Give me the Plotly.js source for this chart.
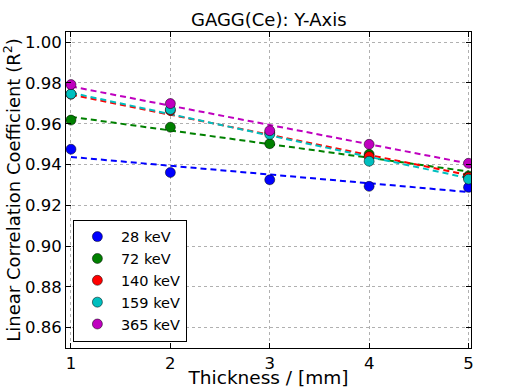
<!DOCTYPE html>
<html>
<head>
<meta charset="utf-8">
<script src="https://cdn.plot.ly/plotly-3.0.1.min.js"></script>
<style>
  html, body { margin: 0; padding: 0; background: #fff; }
  #plot { width: 509px; height: 388px; }
</style>
</head>
<body>
<div id="plot"></div>
<script>
// thickness in mm
var thickness = [1, 2, 3, 4, 5];

// R^2 values per energy
var r28  = [0.9475, 0.9361, 0.9325, 0.9293, 0.9288];
var r72  = [0.9618, 0.9583, 0.9502, 0.9450, 0.9344];
var r140 = [0.9745, 0.9665, 0.9556, 0.9439, 0.9337];
var r159 = [0.9746, 0.9670, 0.9548, 0.9416, 0.9328];
var r365 = [0.9792, 0.9699, 0.9566, 0.9499, 0.9406];

// dashed linear fit lines (end points)
var fitX    = [1, 5];
var fit28   = [0.9437, 0.9265];
var fit72   = [0.9634, 0.9366];
var fit140  = [0.9743, 0.9348];
var fit159  = [0.9752, 0.9333];
var fit365  = [0.9783, 0.9405];

var labels = ['28 keV', '72 keV', '140 keV', '159 keV', '365 keV'];
var colors = ['#0000ff', '#008000', '#ff0000', '#00bfbf', '#bf00bf'];
var series = [r28, r72, r140, r159, r365];
var fits = [fit28, fit72, fit140, fit159, fit365];

var data = [];
for (var i = 0; i < series.length; i++) {
  data.push({
    x: fitX, y: fits[i],
    mode: 'lines', type: 'scatter', showlegend: false, hoverinfo: 'skip',
    line: {color: colors[i], width: 2, dash: '6px,4px'}
  });
}
for (var i = 0; i < series.length; i++) {
  data.push({
    x: thickness, y: series[i],
    mode: 'markers', type: 'scatter', name: labels[i],
    marker: {color: colors[i], size: 10, line: {color: '#000', width: 0.5}}
  });
}

var fam = 'DejaVu Sans, sans-serif';

var layout = {
  width: 509, height: 388,
  margin: {l: 66, r: 38, t: 32, b: 40},
  paper_bgcolor: '#fff', plot_bgcolor: '#fff',
  font: {family: fam, color: '#000', size: 16},
  title: {text: 'GAGG(Ce): Y-Axis', x: 0.528, xanchor: 'center', y: 0.95, yanchor: 'middle',
          font: {family: fam, size: 18, color: '#000'}},
  xaxis: {
    range: [0.95, 5.025], tickvals: thickness, ticktext: ['1', '2', '3', '4', '5'],
    ticks: 'inside', ticklen: 5, tickcolor: '#000', mirror: 'ticks',
    showline: true, linecolor: '#000', linewidth: 1,
    showgrid: true, gridcolor: '#b0b0b0', griddash: 'dot', gridwidth: 1,
    zeroline: false, automargin: false, tickfont: {family: fam, size: 16.5},
    title: {text: 'Thickness / [mm]', standoff: 0, font: {family: fam, size: 18.5}}
  },
  yaxis: {
    range: [0.85, 1.005], dtick: 0.02, tick0: 0.86, tickformat: '.2f',
    ticks: 'inside', ticklen: 5, tickcolor: '#000', mirror: 'ticks',
    showline: true, linecolor: '#000', linewidth: 1,
    showgrid: true, gridcolor: '#b0b0b0', griddash: 'dot', gridwidth: 1,
    zeroline: false, automargin: false, tickfont: {family: fam, size: 16.5},
    title: {text: 'Linear Correlation Coefficient (R<sup>2</sup>)', standoff: 0, font: {family: fam, size: 18}}
  },
  legend: {
    x: 0.017, y: 0.02, xanchor: 'left', yanchor: 'bottom',
    bgcolor: '#fff', bordercolor: '#000', borderwidth: 1,
    font: {family: fam, size: 14.5}, tracegroupgap: 0, itemwidth: 37
  }
};

Plotly.newPlot('plot', data, layout, {displayModeBar: false});
</script>
</body>
</html>
